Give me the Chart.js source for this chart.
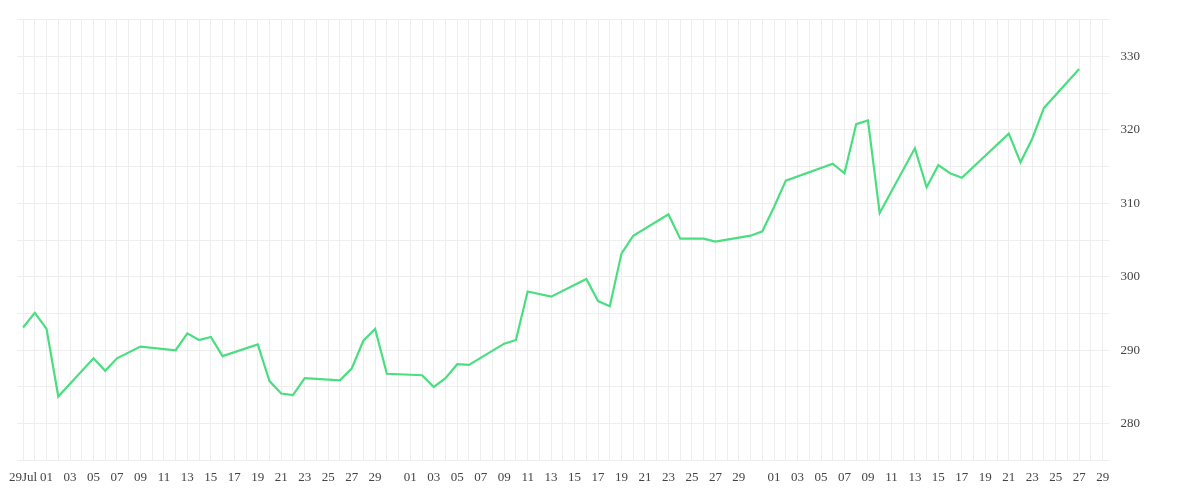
<!DOCTYPE html>
<html>
<head>
<meta charset="utf-8">
<script src="https://cdn.jsdelivr.net/npm/chart.js@4/dist/chart.umd.min.js"></script>
<style>
  html, body { margin: 0; padding: 0; background: #fff; }
  #wrap { width: 1200px; height: 500px; }
</style>
</head>
<body>
<div id="wrap"><canvas id="chart"></canvas></div>
<script>
// one category per calendar day, Jun 29 .. Sep 29
const days = [];
const monthDays = [['Jun', 29, 30], ['Jul', 1, 31], ['Aug', 1, 31], ['Sep', 1, 29]];
monthDays.forEach(([m, a, b]) => { for (let d = a; d <= b; d++) days.push(m + ' ' + d); });

// closing values by day index (trading days only)
const pointDays = [0, 1, 2, 3, 6, 7, 8, 10, 13, 14, 15, 16, 17, 20, 21, 22, 23, 24, 27, 28, 29, 30, 31,
  34, 35, 36, 37, 38, 41, 42, 43, 45, 48, 49, 50, 51, 52, 55, 56, 58, 59, 62, 63, 64, 65, 69, 70, 71, 72,
  73, 76, 77, 78, 79, 80, 84, 85, 86, 87, 90];
const pointValues = [293.1, 295.1, 292.9, 283.7, 288.9, 287.2, 288.9, 290.5, 290.0, 292.3, 291.4, 291.8,
  289.2, 290.8, 285.8, 284.1, 283.9, 286.2, 285.9, 287.5, 291.3, 292.9, 286.8, 286.6, 285.0, 286.2, 288.1,
  288.0, 290.9, 291.4, 298.0, 297.3, 299.7, 296.7, 296.0, 303.2, 305.6, 308.5, 305.2, 305.2, 304.8, 305.6,
  306.2, 309.5, 313.1, 315.4, 314.1, 320.8, 321.3, 308.7, 317.5, 312.2, 315.2, 314.1, 313.5, 319.5, 315.6,
  318.8, 323.0, 328.3];

const series = days.map(() => null);
pointDays.forEach((d, i) => { series[d] = pointValues[i]; });

function tickLabel(i) {
  const [m, dStr] = days[i].split(' ');
  const d = +dStr;
  if (i === 0) return '29Jul';
  if (m === 'Jun' || d === 31 || d % 2 === 0) return '';
  return String(d).padStart(2, '0');
}

new Chart(document.getElementById('chart'), {
  type: 'line',
  data: {
    labels: days,
    datasets: [{
      data: series,
      borderColor: '#4ade80',
      borderWidth: 2.2,
      pointRadius: 0,
      spanGaps: true,
      tension: 0
    }]
  },
  options: {
    responsive: true,
    maintainAspectRatio: false,
    animation: false,
    layout: { padding: { left: 0, right: 48, top: 2, bottom: 6 } },
    plugins: { legend: { display: false }, tooltip: { enabled: false } },
    scales: {
      x: {
        offset: true,
        grid: { color: '#eeeeee', offset: false, drawTicks: false },
        border: { display: false },
        ticks: {
          autoSkip: false, maxRotation: 0, padding: 9,
          color: '#444', font: { family: 'Liberation Serif', size: 13 },
          callback: (v, i) => tickLabel(i)
        }
      },
      y: {
        position: 'right',
        min: 275, max: 335,
        grid: { color: '#eeeeee', drawTicks: false },
        border: { display: false },
        ticks: {
          stepSize: 5, padding: 12,
          color: '#444', font: { family: 'Liberation Serif', size: 13 },
          callback: v => (v % 10 === 0 && v > 275 && v < 335) ? v : ''
        }
      }
    }
  }
});
</script>
</body>
</html>
